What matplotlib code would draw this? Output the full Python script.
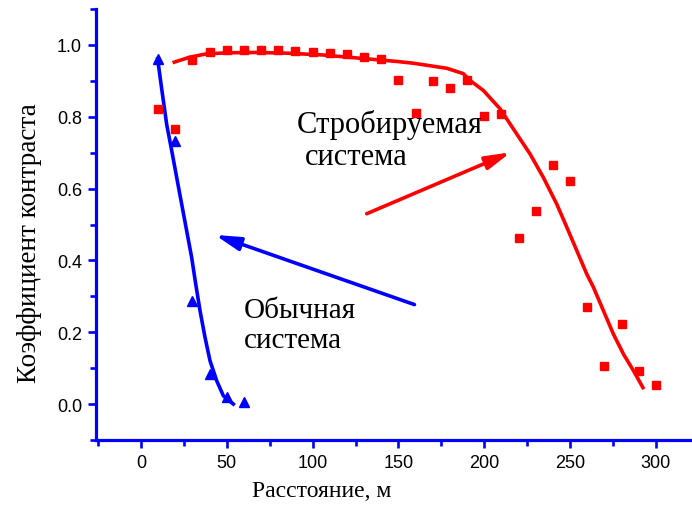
import matplotlib
matplotlib.use("Agg")
import matplotlib.pyplot as plt
from matplotlib.ticker import MultipleLocator

# ---- data ----
gated_x = [10, 20, 30, 40, 50, 60, 70, 80, 90, 100, 110, 120, 130, 140, 150,
           160, 170, 180, 190, 200, 210, 220, 230, 240, 250, 260, 270, 280, 290, 300]
gated_y = [0.822, 0.767, 0.957, 0.980, 0.986, 0.986, 0.986, 0.986, 0.984, 0.980,
           0.977, 0.976, 0.966, 0.962, 0.903, 0.811, 0.899, 0.880, 0.902, 0.801,
           0.807, 0.463, 0.537, 0.666, 0.620, 0.269, 0.107, 0.224, 0.091, 0.053]

gated_fit_x = [19.4, 28.5, 38, 50, 67, 85, 106, 139.3, 149.0, 158.7, 168.4, 178.1,
               187.8, 191.7, 199.5, 209.2, 218.9, 226.7, 234.4, 242.2, 248.1,
               253.9, 259.7, 263.6, 269.4, 275.2, 281.1, 286.9, 292.4]
gated_fit_y = [0.952, 0.966, 0.975, 0.978, 0.979, 0.977, 0.972, 0.958, 0.954,
               0.949, 0.942, 0.935, 0.920, 0.901, 0.873, 0.822, 0.752, 0.696,
               0.631, 0.557, 0.492, 0.427, 0.362, 0.325, 0.260, 0.195, 0.139,
               0.093, 0.046]

usual_x = [10, 20, 30, 40, 50, 60]
usual_y = [0.960, 0.733, 0.288, 0.084, 0.020, 0.007]

usual_fit_x = [9.7, 12.0, 15.0, 17.9, 20.8, 23.7, 26.6, 29.5, 31.9, 34.4,
               37.3, 40.2, 44.1, 48.0, 53.8]
usual_fit_y = [0.961, 0.880, 0.778, 0.706, 0.631, 0.557, 0.483, 0.409,
               0.334, 0.260, 0.186, 0.121, 0.065, 0.023, 0.000]

x_ticks = [0, 50, 100, 150, 200, 250, 300]
y_ticks = [0.0, 0.2, 0.4, 0.6, 0.8, 1.0]

BLUE = "#0000ff"
RED = "#ff0000"

fig = plt.figure(figsize=(6.92, 5.10), dpi=100)
ax = fig.add_axes([96 / 692, 69 / 510, 596 / 692, 431 / 510])

ax.plot(gated_fit_x, gated_fit_y, color=RED, lw=2.6, zorder=2,
        solid_joinstyle="round")
ax.plot(gated_x, gated_y, ls="none", marker="s", ms=5.8, color=RED, zorder=3)
ax.plot(usual_fit_x, usual_fit_y, color=BLUE, lw=2.6, zorder=2,
        solid_joinstyle="round")
ax.plot(usual_x, usual_y, ls="none", marker="^", ms=6.5, color=BLUE, zorder=3)

ax.set_xlim(-26.2, 321)
ax.set_ylim(-0.1, 1.1)

for s in ("top", "right"):
    ax.spines[s].set_visible(False)
for s in ("left", "bottom"):
    ax.spines[s].set_color(BLUE)
    ax.spines[s].set_linewidth(2.3)

ax.set_xticks(x_ticks)
ax.set_xticklabels([str(v) for v in x_ticks])
ax.set_yticks(y_ticks)
ax.set_yticklabels([f"{v:.1f}" for v in y_ticks])
ax.xaxis.set_minor_locator(MultipleLocator(25))
ax.yaxis.set_minor_locator(MultipleLocator(0.1))
ax.tick_params(which="major", direction="out", length=6, width=1.9, color=BLUE,
               labelsize=13, pad=4)
ax.tick_params(which="minor", direction="out", length=4, width=1.9, color=BLUE)
for lab in ax.get_xticklabels() + ax.get_yticklabels():
    lab.set_family("Liberation Sans")

serif = "Liberation Serif"
ax.set_xlabel("Расстояние, м", family=serif, fontsize=17)
ax.xaxis.label.set_va("baseline")
ax.xaxis.set_label_coords((321.5 - 96) / 596, (441 - 497) / 431)
ax.set_ylabel("Коэффициент контраста", family=serif, fontsize=19.5)
ax.yaxis.label.set_va("center")
ax.yaxis.set_label_coords((30 - 96) / 596, (441 - 243) / 431)

ax.text(90.9, 0.758, "Стробируемая", family=serif, fontsize=22, va="baseline", ha="left")
ax.text(95.6, 0.669, "система", family=serif, fontsize=22, va="baseline", ha="left")
ax.text(60.0, 0.242, "Обычная", family=serif, fontsize=21, va="baseline", ha="left")
ax.text(60.0, 0.159, "система", family=serif, fontsize=21, va="baseline", ha="left")

arrow_style = "-|>,head_length=0.75,head_width=0.2"
ax.annotate("", xy=(215.4, 0.701), xytext=(131.5, 0.530),
            arrowprops=dict(arrowstyle=arrow_style, color=RED, lw=2.6,
                            shrinkA=0, shrinkB=0, mutation_scale=20))
ax.annotate("", xy=(43.1, 0.471), xytext=(159.3, 0.277),
            arrowprops=dict(arrowstyle=arrow_style, color=BLUE, lw=2.6,
                            shrinkA=0, shrinkB=0, mutation_scale=20))

fig.savefig("out.png", dpi=100)
